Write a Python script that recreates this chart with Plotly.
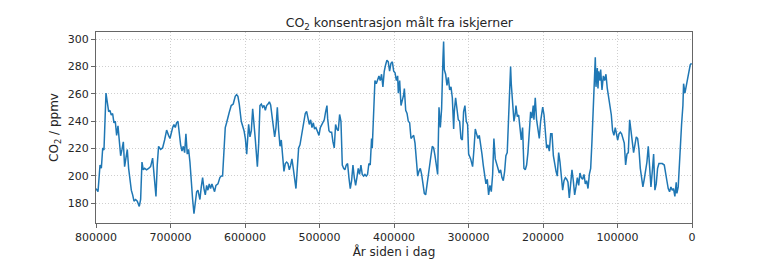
import plotly.graph_objects as go

# Years before present (age) and CO2 concentration (ppmv)
age = [
    800000, 797300, 794600, 792800, 791000, 789300, 786600, 784800, 783000, 781300,
    779500, 777700, 775900, 774100, 772300, 770500, 768700, 766900, 765100, 763300,
    761600, 759800, 758000, 756200, 754400, 752600, 750800, 749000, 746800, 744600,
    741900, 740100, 738300, 736500, 734700, 732100, 729400, 726700, 724000, 722200,
    719500, 717800, 716000, 713300, 710600, 707900, 705200, 702600,
    700700, 697100, 695400, 693600, 691800, 690000, 688200, 686400, 684600, 682800,
    681000, 679300, 677500, 675700, 673900, 672100, 670300, 668500, 666700, 664900,
    663200, 660500, 658700, 656900, 655100, 653300, 651500, 649800, 648000, 646200,
    644400, 642600, 640800, 639000, 636300, 633700, 631900, 630100, 628300, 626500,
    624700, 622900, 621200, 618500, 615800, 613100, 611300, 609500, 607700, 605000,
    601300, 599500, 597700, 596000, 595100, 593300, 591500, 589700, 588000, 586100,
    583400, 581600, 579900, 578100, 576300, 574500, 572700, 571000, 569100, 567300,
    565600, 563800, 562000, 560200, 558400, 556600, 554800, 553000, 551300, 549500,
    547700, 545900, 544100, 542300, 540500, 538700, 537000, 535200, 533400, 531600,
    529800, 528000, 526200, 524400, 522600, 520900, 519100, 517300, 515500, 513700,
    511900, 510100, 508300, 506600, 504800,
    500700, 498900, 497100, 495400, 493600, 491800, 490000, 489100, 487300, 485500,
    483700, 482000, 480200, 478400, 476600, 474800, 473000, 471200, 469400, 467600,
    465900, 464100, 462300, 460500, 458700, 456900, 455100, 453300, 451500, 449800,
    448000, 446200, 444400, 442600, 440800, 439000, 437200, 435500, 433700, 431900,
    430100, 429200, 427400, 425600, 423800, 422000, 420200, 418500, 416700, 414900,
    413100, 411300, 409500, 407700, 405900, 404100,
    402200, 400400, 398600, 396800, 395100, 394200, 392400, 390600, 388800, 387000,
    386100, 384300, 382500, 380800, 379000, 377200, 375400, 373600, 371800, 370000,
    368200, 366500, 364700, 362900, 361100, 359300, 357500, 355700, 353900, 352100,
    350400, 348600, 346800, 345000, 343200, 341400, 339600, 337800, 336100, 335200,
    334300, 333400, 332500, 330700, 328900, 327100, 325300, 323500, 321700, 319900,
    319100, 317300, 315500, 313700, 311900, 310100, 308300, 306600, 304800, 303000,
    301200,
    299800, 297100, 294500, 292700, 290900, 289100, 287300, 285500, 283700, 281900,
    280200, 278400, 276600, 274800, 273000, 271200, 269400, 267600, 265900, 264100,
    262300, 260500, 258700, 256900, 255100, 253300, 251500, 249800, 248000, 246200,
    244400, 243500, 242600, 240800, 239000, 237200, 236300, 234500, 232700, 230900,
    229200, 227400, 225600, 223800, 222000, 220200, 218400, 216600, 214900, 213100,
    212200, 210400, 208600, 206800, 205000, 203200, 201400,
    200400, 198600, 196800, 195100, 193300, 191500, 189700, 187900, 186100, 184300,
    182500, 180800, 179000, 177200, 175400, 173600, 171800, 170000, 168200, 166500,
    164700, 162900, 161100, 159300, 157500, 155700, 153900, 152100, 150400, 148600,
    146800, 145000, 143200, 141400, 139600, 137800, 136000, 134300, 132500, 130700,
    129800, 128900, 127100, 126200, 125300, 123500, 122600, 120800, 119000, 117300,
    115500, 113700, 111900, 110100, 108300, 106600, 104800, 103000,
    101600, 99800, 98000, 96200, 94500, 92700, 90900, 89100, 87300, 85500,
    83700, 81900, 80200, 78400, 76600, 74800, 73000, 71200, 69400, 67600,
    65900, 64100, 62300, 60500, 58700, 56900, 55100, 53300, 51500, 49800,
    48000, 46200, 44400, 42600, 39900, 37200, 35500, 33700, 31900, 30100,
    28300, 26500, 24800, 23000, 21200, 20300, 18500, 16700, 14900, 14000,
    12200, 11300, 9500, 7700, 6000, 4200, 2400, 600,
]

co2 = [
    190.8, 188.5, 208.0, 205.6, 220.5, 219.0, 260.6, 251.5, 247.0, 248.0,
    244.6, 245.7, 238.9, 240.0, 229.7, 236.6, 226.3, 214.8, 219.4, 225.0,
    206.8, 214.8, 219.4, 205.6, 196.5, 189.6, 186.2, 181.6, 182.8, 181.6,
    177.7, 182.8, 210.2, 204.5, 205.6, 204.5, 205.6, 206.8, 213.0, 203.4,
    185.0, 208.0, 221.7, 219.4, 220.5, 226.3, 233.6, 229.7,
    227.4, 235.4, 237.7, 235.4, 238.9, 240.0, 230.8, 222.8, 218.2, 221.7,
    217.1, 230.8, 216.0, 219.4, 210.2, 194.2, 182.8, 172.4, 179.3, 188.5,
    189.6, 182.8, 192.0, 198.8, 190.8, 186.2, 193.1, 189.6, 194.2, 190.8,
    194.2, 190.8, 188.5, 193.1, 194.2, 198.8, 199.9, 199.9, 214.8, 235.4,
    238.9, 243.4, 246.4, 251.5, 252.6, 258.3, 259.5, 258.3, 252.6, 240.0,
    233.1, 227.4, 216.0, 230.8, 237.7, 228.6, 233.1, 249.2, 240.0, 226.3,
    206.8, 224.0, 251.5, 252.6, 250.3, 251.5, 248.0, 251.5, 252.6, 254.2,
    251.9, 244.6, 235.4, 228.6, 235.4, 250.3, 233.1, 221.7, 226.3, 214.8,
    203.4, 209.1, 210.2, 209.1, 204.5, 207.9, 212.5, 205.6, 198.8, 190.8,
    205.6, 220.5, 222.8, 228.6, 235.4, 242.3, 245.7, 247.3, 243.4, 237.7,
    241.1, 235.4, 238.9, 234.3, 235.4,
    229.7, 235.4, 237.7, 238.9, 241.1, 246.9, 251.5, 242.3, 233.1, 232.0,
    232.0, 225.1, 220.5, 237.7, 234.3, 233.1, 245.0, 240.0, 208.0, 205.6,
    204.5, 208.0, 209.1, 198.8, 190.8, 196.5, 208.0, 198.8, 193.1, 198.8,
    205.6, 201.1, 208.0, 201.1, 199.9, 201.1, 199.9, 201.1, 209.1, 208.0,
    227.4, 220.5, 246.9, 269.8, 267.5, 270.9, 273.2, 269.8, 274.4, 265.2,
    276.6, 281.2, 284.7, 283.5, 276.6, 282.4,
    283.5, 276.6, 275.5, 269.8, 273.2, 260.6, 269.8, 251.5, 254.9, 259.5,
    264.0, 248.0, 245.7, 240.0, 238.9, 227.4, 228.6, 229.7, 224.0, 210.2,
    199.9, 203.4, 205.6, 201.1, 193.1, 187.3, 186.2, 194.2, 203.4, 209.1,
    214.8, 221.7, 220.5, 214.8, 205.6, 201.1, 250.3, 235.4, 249.2, 278.9,
    285.8, 298.4, 277.8, 274.4, 266.3, 272.1, 262.9, 265.2, 257.2, 234.3,
    246.9, 257.2, 248.0, 241.1, 240.0, 227.4, 226.3, 246.9, 251.5, 240.0,
    237.7,
    216.0, 212.5, 206.8, 219.4, 234.3, 230.8, 227.4, 229.7, 224.0, 216.0,
    208.0, 198.8, 194.2, 197.6, 186.2, 193.1, 188.5, 201.1, 227.4, 212.5,
    208.0, 205.6, 202.2, 204.5, 198.8, 196.5, 203.4, 214.8, 217.1, 237.7,
    260.6, 280.1, 267.5, 249.2, 240.0, 245.7, 251.5, 243.4, 244.6, 235.4,
    226.3, 235.4, 205.6, 204.5, 208.0, 217.1, 235.4, 246.9, 242.3, 251.5,
    241.1, 257.2, 241.1, 232.0, 227.4, 240.0, 246.9,
    250.3, 244.6, 227.4, 220.5, 222.8, 218.2, 230.8, 230.8, 214.8, 208.0,
    203.4, 199.9, 217.1, 210.2, 201.1, 189.6, 196.5, 198.8, 197.6, 195.4,
    183.9, 193.1, 204.5, 196.5, 186.2, 192.0, 198.8, 193.1, 202.2, 198.8,
    197.6, 201.1, 194.2, 196.5, 190.8, 201.1, 205.6, 225.1, 246.9, 267.5,
    286.9, 265.2, 278.9, 264.0, 276.6, 269.8, 277.8, 262.9, 273.2, 269.8,
    274.4, 264.0, 257.2, 251.5, 244.6, 233.1, 229.7, 235.4,
    230.8, 226.3, 230.8, 232.0, 230.8, 227.4, 224.0, 208.0, 216.0, 217.1,
    241.1, 233.1, 224.0, 217.1, 222.8, 228.6, 227.4, 219.4, 205.6, 196.5,
    192.0, 197.6, 204.5, 210.2, 221.7, 208.0, 192.0, 203.4, 216.0, 189.6,
    194.2, 205.6, 209.1, 209.1, 209.1, 208.0, 203.4, 196.5, 190.8, 188.5,
    192.0, 189.6, 190.8, 185.0, 195.4, 187.3, 192.0, 214.8, 235.4, 237.7,
    251.5, 267.5, 260.6, 265.2, 272.1, 276.6, 281.2, 282.4,
]

x_ticks = [800000, 700000, 600000, 500000, 400000, 300000, 200000, 100000, 0]
y_ticks = [180, 200, 220, 240, 260, 280, 300]

title_text = "CO<sub>2</sub> konsentrasjon målt fra iskjerner"
x_title = "År siden i dag"
y_title = "CO<sub>2</sub> / ppmv"

font_family = "DejaVu Sans"
text_color = "#262626"
line_color = "#1f77b4"

fig = go.Figure()
fig.add_trace(go.Scatter(
    x=age, y=co2, mode="lines",
    line=dict(color=line_color, width=1.5),
    showlegend=False,
))

axis_common = dict(
    showline=True, linecolor="#666666", linewidth=1, mirror=True,
    ticks="outside", ticklen=4, tickcolor="#666666", tickwidth=1,
    showgrid=True, gridcolor="#cfcfcf", gridwidth=1, griddash="1px,2px",
    zeroline=False,
    tickfont=dict(family=font_family, size=11, color=text_color),
)

fig.update_layout(
    width=768, height=269,
    margin=dict(l=96, r=76, t=32, b=34),
    paper_bgcolor="white", plot_bgcolor="white",
    font=dict(family=font_family, color=text_color),
    title=dict(
        text=title_text, x=0.52, xanchor="center", y=0.915, yanchor="middle",
        font=dict(family=font_family, size=12.5, color=text_color),
    ),
    xaxis=dict(
        range=[800000, 0], tickvals=x_ticks, ticktext=[str(v) for v in x_ticks],
        title=dict(text=x_title, standoff=4,
                   font=dict(family=font_family, size=12, color=text_color)),
        **axis_common,
    ),
    yaxis=dict(
        range=[165.6, 305.3], tickvals=y_ticks,
        title=dict(text=y_title, standoff=6,
                   font=dict(family=font_family, size=12, color=text_color)),
        **axis_common,
    ),
)

fig.write_html("out.html")
